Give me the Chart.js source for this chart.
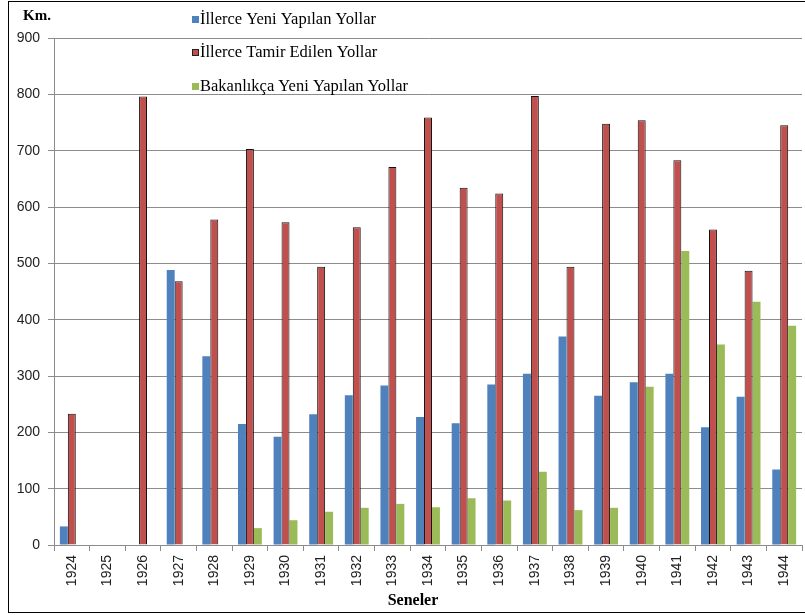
<!DOCTYPE html>
<html>
<head>
<meta charset="utf-8">
<script src="https://cdn.jsdelivr.net/npm/chart.js@4"></script>
<style>
  body { margin: 0; background: #fff; }
  #wrap { width: 805px; height: 615px; }
</style>
</head>
<body>
<div id="wrap"><canvas id="chart" width="805" height="615"></canvas></div>
<script>
const years = ['1924', '1925', '1926', '1927', '1928', '1929', '1930', '1931', '1932', '1933', '1934',
    '1935', '1936', '1937', '1938', '1939', '1940', '1941', '1942', '1943', '1944'];

const seriesNames = ['İllerce Yeni Yapılan Yollar', 'İllerce Tamir Edilen Yollar', 'Bakanlıkça Yeni Yapılan Yollar'];

const illerceYeni = [33, null, null, 488, 335, 215, 192, 232, 266, 283, 227,
    216, 285, 304, 370, 265, 289, 304, 209, 263, 134];
const illerceTamir = [233, null, 796, 468, 578, 703, 573, 494, 564, 671, 759,
    634, 624, 797, 494, 748, 754, 683, 560, 487, 745];
const bakanlikca = [null, null, null, null, null, 30, 44, 59, 66, 73, 67,
    83, 79, 130, 62, 66, 281, 522, 356, 432, 389];

const colors = ['#4F81BD', '#C0504D', '#9BBB59'];
const gridColor = '#8c8c8c';

// draws frame, axis titles and the legend the way the original sheet does
const decorations = {
    id: 'decorations',
    afterDraw(chart) {
        const ctx = chart.ctx;
        ctx.save();
        ctx.strokeStyle = '#000';
        ctx.lineWidth = 1;
        ctx.strokeRect(8.5, 1.5, 805, 611);

        ctx.fillStyle = '#000';
        ctx.textBaseline = 'middle';
        ctx.font = 'bold 15px "Liberation Serif"';
        ctx.textAlign = 'left';
        ctx.fillText('Km.', 23, 16);

        ctx.textAlign = 'center';
        ctx.font = 'bold 16px "Liberation Serif"';
        ctx.fillText('Seneler', 413, 601);

        const legendY = [20, 53, 87];
        ctx.textAlign = 'left';
        ctx.font = '16.5px "Liberation Serif"';
        chart.data.datasets.forEach((ds, i) => {
            const y = legendY[i];
            ctx.fillStyle = ds.backgroundColor;
            ctx.fillRect(192, y - 4, 7, 7);
            if (i === 1) {
                ctx.strokeStyle = '#222';
                ctx.strokeRect(192.5, y - 3.5, 6, 6);
            }
            ctx.fillStyle = '#000';
            ctx.fillText(ds.label, 200, y);
        });
        ctx.restore();
    }
};

new Chart(document.getElementById('chart'), {
    type: 'bar',
    data: {
        labels: years,
        datasets: [
            { label: seriesNames[0], data: illerceYeni, backgroundColor: colors[0], borderWidth: 0 },
            { label: seriesNames[1], data: illerceTamir, backgroundColor: colors[1], borderColor: '#111', borderWidth: 1 },
            { label: seriesNames[2], data: bakanlikca, backgroundColor: colors[2], borderWidth: 0 }
        ]
    },
    options: {
        responsive: false,
        animation: false,
        layout: { padding: { top: 38, left: 0, right: 0, bottom: 0 } },
        categoryPercentage: 0.67,
        barPercentage: 1.0,
        plugins: {
            legend: { display: false },
            tooltip: { enabled: false }
        },
        scales: {
            x: {
                afterFit: scale => { scale.height = 70; },
                grid: {
                    display: true,
                    drawOnChartArea: false,
                    tickLength: 6,
                    color: gridColor,
                    offset: true
                },
                border: { color: gridColor },
                ticks: {
                    minRotation: 90,
                    maxRotation: 90,
                    padding: 4,
                    color: '#222',
                    font: { family: 'Liberation Sans', size: 14 }
                }
            },
            y: {
                min: 0,
                max: 900,
                afterFit: scale => { scale.width = 54; },
                grid: { color: gridColor, tickLength: 6 },
                border: { color: gridColor },
                ticks: {
                    stepSize: 100,
                    padding: 8,
                    color: '#222',
                    font: { family: 'Liberation Sans', size: 14 }
                }
            }
        }
    },
    plugins: [decorations]
});
</script>
</body>
</html>
